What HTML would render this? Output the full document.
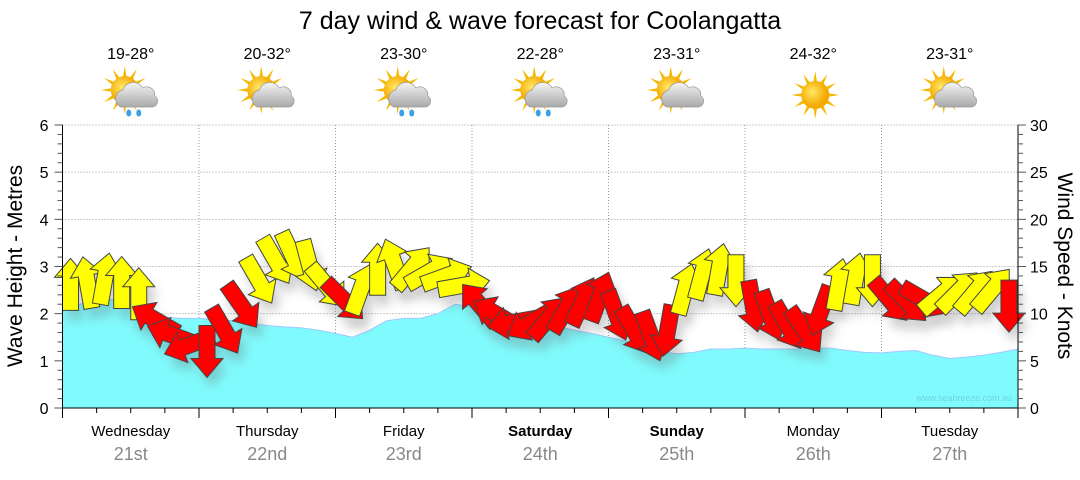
<!DOCTYPE html>
<html><head><meta charset="utf-8"><style>
body{margin:0;background:#fff;width:1080px;height:475px;overflow:hidden;font-family:"Liberation Sans",sans-serif}
</style></head><body>
<svg id="chart" width="1080" height="475" viewBox="0 0 1080 475" xmlns="http://www.w3.org/2000/svg" font-family="Liberation Sans, sans-serif">
<defs>
<filter id="sh" x="-50%" y="-50%" width="200%" height="200%"><feGaussianBlur stdDeviation="5"/></filter>
<radialGradient id="sun" cx="40%" cy="40%"><stop offset="0" stop-color="#ffe866"/><stop offset="1" stop-color="#f5a800"/></radialGradient>
<linearGradient id="cloud" x1="0" y1="0" x2="0" y2="1"><stop offset="0" stop-color="#f4f4f4"/><stop offset="1" stop-color="#a9a9a9"/></linearGradient>
</defs>
<text x="540" y="29" text-anchor="middle" font-size="25" fill="#000">7 day wind &amp; wave forecast for Coolangatta</text>
<g id="grid"></g>
<g id="wave"></g>
<g id="shadows" opacity="0.3"></g>
<g id="arrows"></g>
<g id="axes"></g>
<g id="days"></g>
<text transform="translate(22,266) rotate(-90)" text-anchor="middle" font-size="21">Wave Height - Metres</text>
<text transform="translate(1058,266) rotate(90)" text-anchor="middle" font-size="21">Wind Speed - Knots</text>
<text x="1012" y="401" text-anchor="end" font-size="9" fill="#6fd3e0">www.seabreeze.com.au</text>
</svg>
<script>
const dayNames=["Wednesday","Thursday","Friday","Saturday","Sunday","Monday","Tuesday"];
const dayDates=["21st","22nd","23rd","24th","25th","26th","27th"];
const temps=["19-28°","20-32°","23-30°","22-28°","23-31°","24-32°","23-31°"];
const iconTypes=["rain","cloud","rain","rain","cloud","sun","cloud"];
const waveHeights=[2.05,2.2,2.3,2.3,2.2,1.95,1.92,1.9,1.9,1.88,1.85,1.8,1.75,1.72,1.7,1.65,1.58,1.5,1.65,1.85,1.9,1.9,2.0,2.2,2.15,2.0,1.9,1.85,1.8,1.72,1.65,1.58,1.5,1.42,1.3,1.2,1.15,1.18,1.25,1.25,1.27,1.25,1.25,1.25,1.27,1.27,1.22,1.18,1.17,1.2,1.22,1.12,1.05,1.08,1.12,1.18,1.25];
const windSpeeds=[13,13.2,13.6,13.2,12,9.3,7.7,6.7,6.1,8.3,10.9,13.6,15.7,16.2,15.2,13,11.5,12.5,14.6,15.2,14.8,14.4,14,13,10.9,9.9,9.1,9.1,9.5,10.4,11.2,11.7,9.9,8.3,7.7,8.3,12.5,14.1,14.6,13.6,10.9,9.9,8.8,8.3,10.4,13,13.6,13.6,11.5,11.3,11.5,12,12.3,12.3,12.5,10.9];
const windDirs=[0,-10,10,0,0,-60,-70,-110,180,150,145,150,150,155,165,140,135,20,0,-20,40,60,70,80,-40,-60,-100,-120,40,30,25,20,160,150,160,190,15,15,10,180,170,160,150,145,200,10,10,180,140,135,120,50,45,40,40,180];
const windColors=["y","y","y","y","y","r","r","r","r","r","r","y","y","y","y","y","r","y","y","y","y","y","y","y","r","r","r","r","r","r","r","r","r","r","r","r","y","y","y","y","r","r","r","r","r","y","y","y","r","r","r","y","y","y","y","r"];
const L=62.5,R=1018,T=125,B=408,NS="http://www.w3.org/2000/svg";
const xSlot=i=>L+i*(R-L)/56;
const yM=m=>B-m*(B-T)/6;
const yK=k=>B-k*(B-T)/30;
function el(t,a,p){const e=document.createElementNS(NS,t);for(const k in a)e.setAttribute(k,a[k]);p.appendChild(e);return e;}
const grid=document.getElementById('grid'),axes=document.getElementById('axes'),days=document.getElementById('days');
for(let m=1;m<=6;m++){const g=el('line',{x1:L,x2:R,y1:yM(m),y2:yM(m),stroke:'#999','stroke-dasharray':'1,2'},grid);

}
for(let d=1;d<7;d++){const x=L+d*(R-L)/7;const g=el('line',{x1:x,x2:x,y1:T,y2:B,stroke:'#999','stroke-dasharray':'1,2'},grid);

}
let d=`M${L},${B}`;waveHeights.forEach((h,i)=>d+=` L${xSlot(i)},${yM(h)}`);d+=` L${R},${B}Z`;
const wp=el('path',{d:d,fill:'#80fbfd',stroke:'#a0c8ff','stroke-width':1},document.getElementById('wave'));


const AP="M0,-27 L16,-8 L8,-8 L8,25 L-8,25 L-8,-8 L-16,-8Z";
const sh=document.getElementById('shadows'),ar=document.getElementById('arrows');
windSpeeds.forEach((s,i)=>{const x=xSlot(i)+8,y=yK(s);
 el('path',{d:AP,fill:'#666',filter:'url(#sh)',transform:`translate(${x+5},${y+10}) rotate(${windDirs[i]})`},sh);
 const a=el('path',{d:AP,fill:windColors[i]=='y'?'#ffff00':'#ff0000',stroke:'#444','stroke-width':1,transform:`translate(${x},${y}) rotate(${windDirs[i]})`},ar);
 
 
});
el('line',{x1:L,x2:L,y1:T,y2:B,stroke:'#000'},axes);
el('line',{x1:R,x2:R,y1:T,y2:B,stroke:'#000'},axes);
el('line',{x1:L,x2:R,y1:B,y2:B,stroke:'#000'},axes);
for(let k=0;k<=30;k++){const y=yM(k/5);el('line',{x1:L-(k%5?5:8),x2:L,y1:y,y2:y,stroke:'#555'},axes);
 el('line',{x1:R,x2:R+(k%5?5:8),y1:yK(k),y2:yK(k),stroke:'#555'},axes);
 if(k%5==0){const t=el('text',{x:L-14,y:y+6,'text-anchor':'end','font-size':16},axes);t.textContent=k/5;
 
 
 const t2=el('text',{x:R+12,y:yK(k)+6,'font-size':16},axes);t2.textContent=k;
 
 }}
for(let i=0;i<=28;i++){const x=L+i*(R-L)/28;el('line',{x1:x,x2:x,y1:B,y2:B+(i%4?5:10),stroke:'#000'},axes);}
function icon(cx,cy,type,g){
 const sx=type=='sun'?cx:cx-8, sy=type=='sun'?cy:cy-5;
 for(let r=0;r<12;r++){const a=r*Math.PI/6;el('polygon',{points:`${sx+Math.cos(a-0.2)*11},${sy+Math.sin(a-0.2)*11} ${sx+Math.cos(a)*24},${sy+Math.sin(a)*24} ${sx+Math.cos(a+0.2)*11},${sy+Math.sin(a+0.2)*11}`,fill:'#f5b800'},g);}
 el('circle',{cx:sx,cy:sy,r:14,fill:'url(#sun)'},g);
 if(type!='sun'){el('path',{d:`M${cx-12},${cy+12} a9,9 0 0 1 2,-17 a11,11 0 0 1 20,-2 a8,8 0 0 1 12,8 a6,6 0 0 1 -2,11Z`,fill:'url(#cloud)',stroke:'#999','stroke-width':0.7},g);}
 if(type=='rain'){[-4,6].forEach(o=>el('ellipse',{cx:cx+o,cy:cy+18,rx:2.5,ry:3.5,fill:'#3aa0e8'},g));}
}
for(let i=0;i<7;i++){const cx=L+(i+.5)*(R-L)/7;
 const n=el('text',{x:cx,y:436,'text-anchor':'middle','font-size':15,'font-weight':(i==3||i==4)?'bold':'normal'},days);n.textContent=dayNames[i];
 
 
 const dt=el('text',{x:cx,y:460,'text-anchor':'middle','font-size':18,fill:'#888'},days);dt.textContent=dayDates[i];
 
 
 const tp=el('text',{x:cx,y:59,'text-anchor':'middle','font-size':16},days);tp.textContent=temps[i];
 
 
 const g=el('g',{},days);
 
 
 icon(cx+2,95,iconTypes[i],g);}
</script>
</body></html>
